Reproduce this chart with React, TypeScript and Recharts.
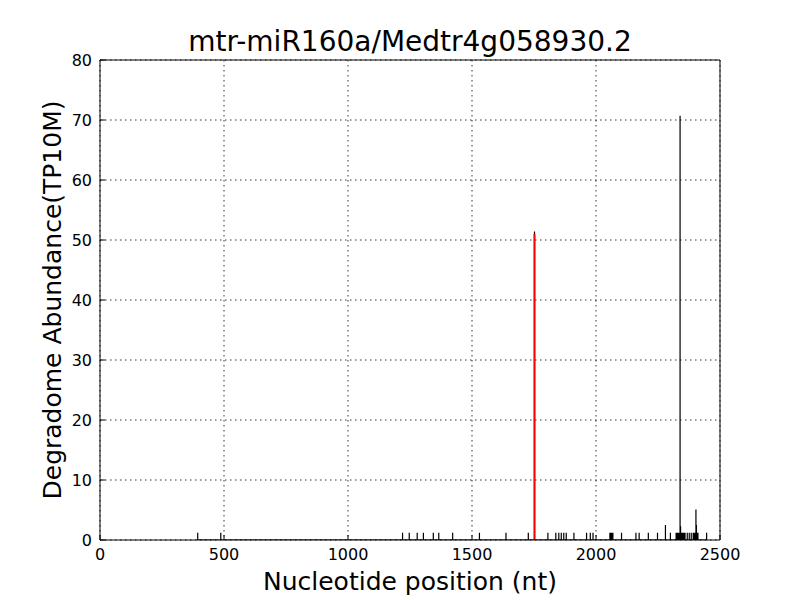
import React from 'react';
import { ComposedChart, Line, XAxis, YAxis, CartesianGrid } from 'recharts';

// Degradome profile: cleavage positions (nt) and abundance (TP10M)
const positions = [
  394, 487, 1220, 1247, 1279, 1304, 1344, 1366, 1422, 1530, 1637, 1727,
  1752,
  1806, 1838, 1850, 1860, 1870, 1880, 1911, 1962, 1977, 1988,
  2056, 2060, 2064, 2068, 2103, 2161, 2174, 2211, 2248, 2280, 2300,
  2323, 2325, 2327, 2329, 2331, 2333, 2335, 2337, 2339, 2341, 2343, 2345, 2347, 2349, 2351, 2353, 2355,
  2359, 2368, 2376, 2384, 2392,
  2395, 2397, 2399, 2401, 2403, 2405, 2407, 2409, 2411,
  2446,
];
const abundances = [
  1.2, 1.2, 1.2, 1.2, 1.2, 1.2, 1.2, 1.2, 1.2, 1.2, 1.2, 1.2,
  51.4,
  1.2, 1.2, 1.2, 1.2, 1.2, 1.2, 1.2, 1.2, 1.2, 1.2,
  1.2, 1.2, 1.2, 1.2, 1.2, 1.2, 1.2, 1.2, 1.2, 2.5, 1.2,
  1.2, 1.2, 1.2, 1.2, 1.2, 1.2, 1.2, 1.2, 70.7, 2.3, 1.2, 1.2, 1.2, 1.2, 1.2, 1.2, 1.2,
  1.2, 1.2, 1.2, 1.2, 1.2,
  1.2, 1.2, 1.2, 1.2, 5.1, 2.5, 1.2, 1.2, 1.2,
  1.2,
];
const targetPosition = 1752;
const targetAbundance = 51.0;

const xTicks = [0, 500, 1000, 1500, 2000, 2500];
const yTicks = [0, 10, 20, 30, 40, 50, 60, 70, 80];

const titleText = 'mtr-miR160a/Medtr4g058930.2';
const xLabel = 'Nucleotide position (nt)';
const yLabel = 'Degradome Abundance(TP10M)';

// each cleavage signal drawn as a vertical stem: baseline -> value -> baseline
const profile = positions.flatMap((p, i) => [
  { pos: p, value: 0 },
  { pos: p, value: abundances[i] },
  { pos: p, value: 0 },
]);
const targetLine = [
  { pos: targetPosition, value: 0 },
  { pos: targetPosition, value: targetAbundance },
];

const FONT = '"DejaVu Sans", sans-serif';

export default function App() {
  return (
    <div style={{ position: 'absolute', left: 0, top: 0, width: 800, height: 600, background: '#fff', fontFamily: FONT }}>
      <div
        style={{
          position: 'absolute', left: 100, top: 28, width: 620, textAlign: 'center',
          fontSize: 28, lineHeight: '28px', color: '#000', fontFamily: FONT, whiteSpace: 'nowrap',
        }}
      >
        {titleText}
      </div>
      <ComposedChart
        width={800}
        height={600}
        data={profile}
        margin={{ top: 59, right: 79, bottom: 0, left: 4 }}
      >
        <CartesianGrid stroke="#000" strokeWidth={0.8} strokeDasharray="1.5 3.5" />
        <XAxis
          dataKey="pos"
          type="number"
          domain={[0, 2500]}
          ticks={xTicks}
          allowDataOverflow
          height={60}
          tickSize={-5}
          tickMargin={14}
          axisLine={{ stroke: '#000', strokeWidth: 1 }}
          tickLine={{ stroke: '#000', strokeWidth: 1 }}
          tick={{ fontSize: 16, fill: '#000', fontFamily: FONT }}
          label={{ value: xLabel, position: 'insideBottom', offset: 10, fontSize: 25, fill: '#000', fontFamily: FONT }}
        />
        <XAxis
          xAxisId="top"
          orientation="top"
          dataKey="pos"
          type="number"
          domain={[0, 2500]}
          ticks={xTicks}
          allowDataOverflow
          height={1}
          tickSize={-5}
          axisLine={{ stroke: '#000', strokeWidth: 1 }}
          tickLine={{ stroke: '#000', strokeWidth: 1 }}
          tick={false}
        />
        <YAxis
          type="number"
          domain={[0, 80]}
          ticks={yTicks}
          allowDataOverflow
          width={96}
          tickSize={-5}
          tickMargin={13}
          axisLine={{ stroke: '#000', strokeWidth: 1 }}
          tickLine={{ stroke: '#000', strokeWidth: 1 }}
          tick={{ fontSize: 16, fill: '#000', fontFamily: FONT }}
          label={{ value: yLabel, position: 'center', angle: -90, fontSize: 25, fill: '#000', fontFamily: FONT }}
        />
        <YAxis
          yAxisId="right"
          orientation="right"
          type="number"
          domain={[0, 80]}
          ticks={yTicks}
          allowDataOverflow
          width={1}
          tickSize={-5}
          axisLine={{ stroke: '#000', strokeWidth: 1 }}
          tickLine={{ stroke: '#000', strokeWidth: 1 }}
          tick={false}
        />
        <Line
          xAxisId="top"
          yAxisId="right"
          dataKey="value"
          type="linear"
          stroke="none"
          dot={false}
          activeDot={false}
          legendType="none"
          isAnimationActive={false}
        />
        <Line
          dataKey="value"
          type="linear"
          stroke="#000"
          strokeWidth={1.2}
          dot={false}
          activeDot={false}
          isAnimationActive={false}
        />
        <Line
          data={targetLine}
          dataKey="value"
          type="linear"
          stroke="#ff0000"
          strokeWidth={2}
          dot={false}
          activeDot={false}
          isAnimationActive={false}
        />
      </ComposedChart>
    </div>
  );
}
